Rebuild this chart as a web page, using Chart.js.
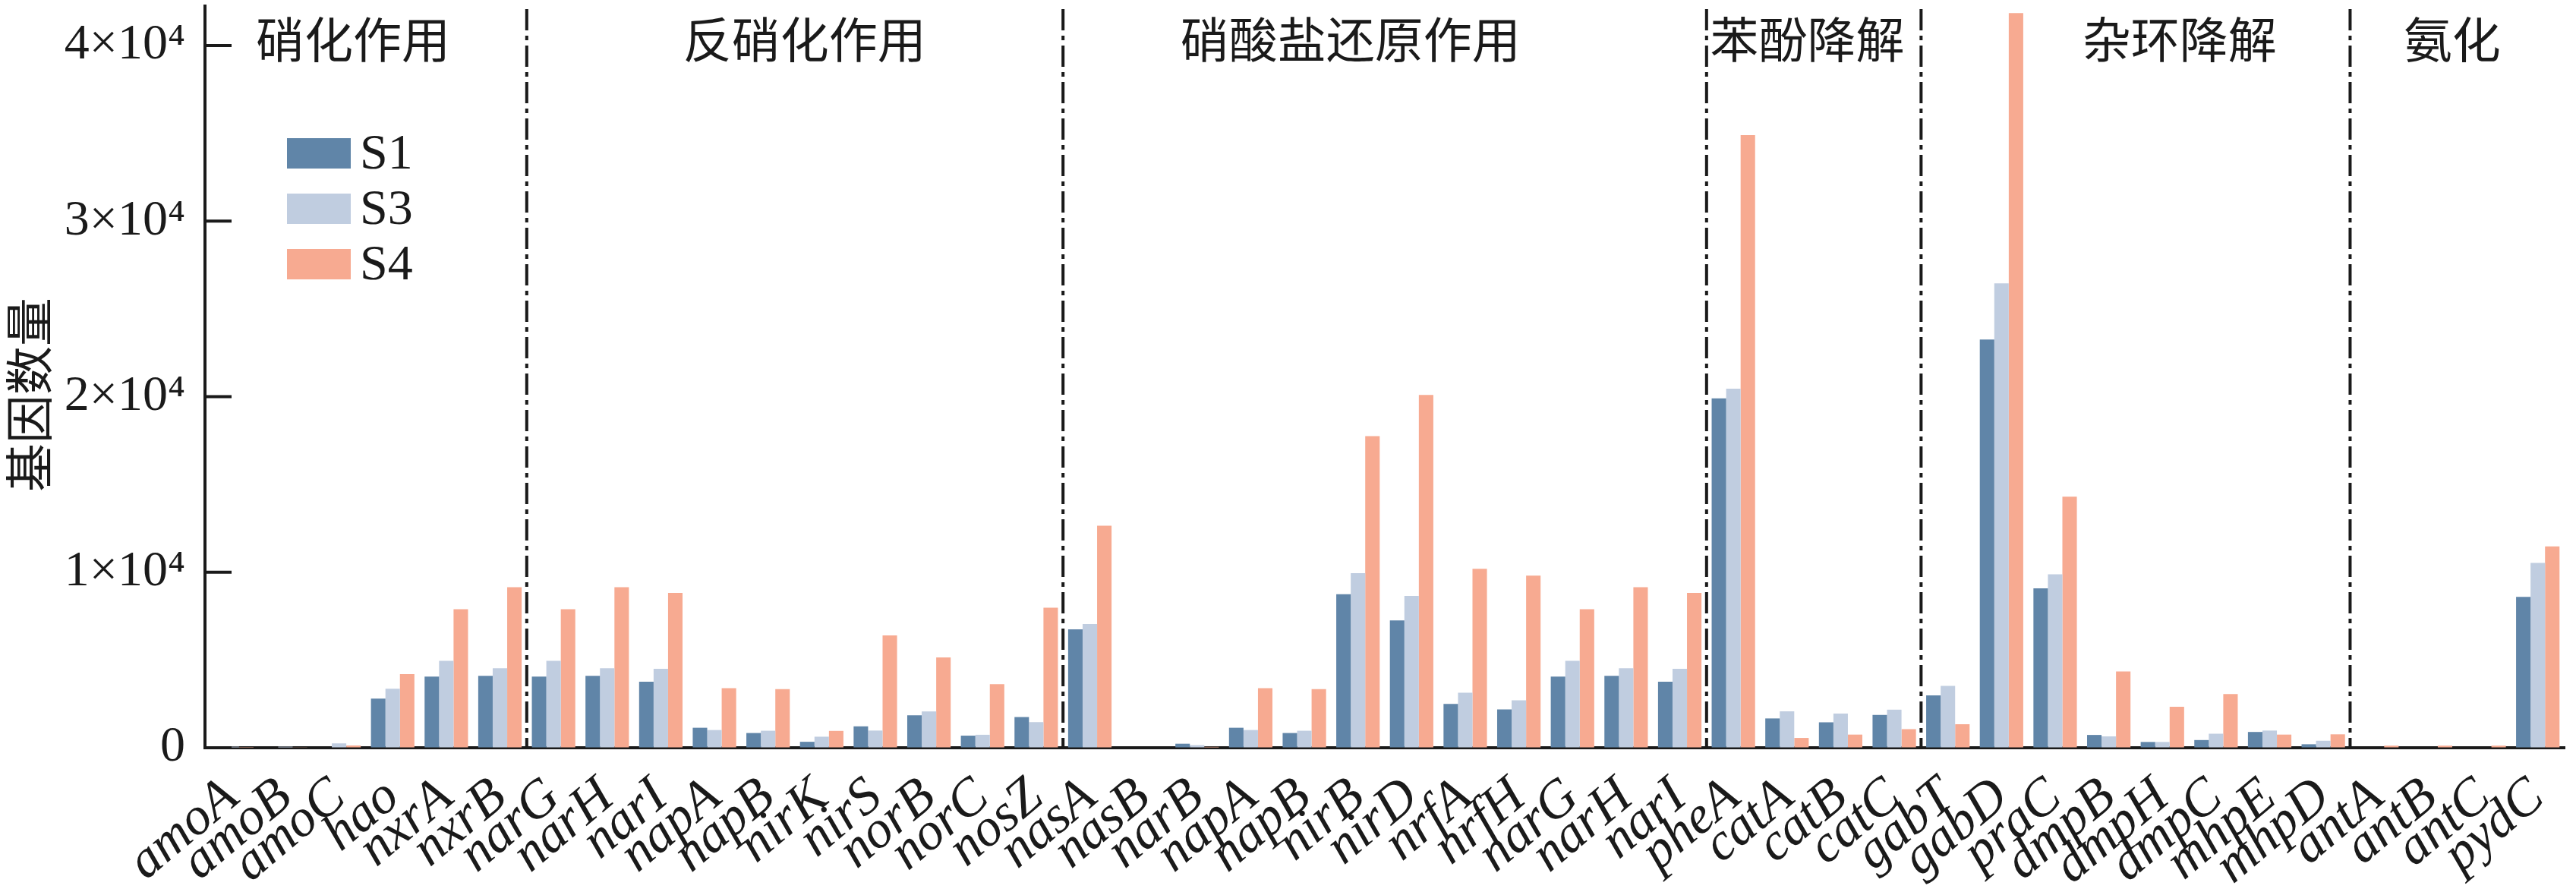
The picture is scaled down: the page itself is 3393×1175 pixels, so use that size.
<!DOCTYPE html>
<html>
<head>
<meta charset="utf-8">
<script src="https://cdn.jsdelivr.net/npm/chart.js@4.4.0/dist/chart.umd.min.js"></script>
<style>
    html, body { margin: 0; padding: 0; background: #fff; }
    #chartContainer { width: 3393px; height: 1175px; }
</style>
</head>
<body>
<div id="chartContainer">
    <canvas id="myChart" width="3393" height="1175"></canvas>
</div>

<script>
    // gene names along the x axis
    var genes = ['amoA', 'amoB', 'amoC', 'hao', 'nxrA', 'nxrB',
        'narG', 'narH', 'narI', 'napA', 'napB', 'nirK', 'nirS', 'norB', 'norC', 'nosZ',
        'nasA', 'nasB', 'narB', 'napA', 'napB', 'nirB', 'nirD', 'nrfA', 'nrfH', 'narG', 'narH', 'narI',
        'pheA', 'catA', 'catB', 'catC',
        'gabT', 'gabD', 'praC', 'dmpB', 'dmpH', 'dmpC', 'mhpE', 'mhpD',
        'antA', 'antB', 'antC', 'pydC'];

    // functional groups, in order, and how many genes each holds
    var groupNames = ['硝化作用', '反硝化作用', '硝酸盐还原作用', '苯酚降解', '杂环降解', '氨化'];
    var groupSizes = [6, 10, 12, 4, 8, 4];

    var seriesNames = ['S1', 'S3', 'S4'];

    var s1 = [0, 0, 0, 2800, 4050, 4100,
        4050, 4100, 3760, 1140, 840, 340, 1220, 1850, 690, 1750,
        6750, 0, 230, 1140, 840, 8750, 7250, 2500, 2180, 4050, 4100, 3760,
        19900, 1670, 1450, 1870,
        2980, 23250, 9080, 730, 330, 440, 900, 200,
        0, 0, 0, 8600];

    var s3 = [60, 60, 250, 3360, 4950, 4530,
        4950, 4530, 4500, 1010, 970, 630, 980, 2070, 740, 1460,
        7050, 0, 150, 1010, 970, 9950, 8650, 3130, 2700, 4950, 4530, 4500,
        20450, 2075, 1950, 2170,
        3520, 26450, 9880, 650, 330, 800, 980, 400,
        0, 0, 0, 10530];

    var s4 = [40, 30, 130, 4190, 7890, 9150,
        7890, 9150, 8820, 3390, 3340, 960, 6400, 5150, 3620, 7980,
        12650, 0, 50, 3390, 3340, 17750, 20100, 10200, 9810, 7890, 9150, 8820,
        34900, 560, 750, 1060,
        1340, 41850, 14300, 4350, 2340, 3060, 750, 765,
        120, 120, 120, 11470];

    var yTicks = [0, 10000, 20000, 30000, 40000];
    var yTickLabels = ['0', '1×10⁴', '2×10⁴', '3×10⁴', '4×10⁴'];

    var colors = ['#6085a8', '#c0cde0', '#f7aa91'];
    var ink = '#1a1a1a';

    // separators, group titles, legend, inward ticks and the y title
    var decorations = {
        id: 'decorations',
        afterDraw: function (chart, args, opts) {
            var ctx = chart.ctx;
            var xs = chart.scales.x;
            var ys = chart.scales.y;
            var area = chart.chartArea;
            var x0 = xs.getPixelForValue(0);
            var step = xs.getPixelForValue(1) - x0;

            ctx.save();

            // tick marks point into the plot
            ctx.strokeStyle = ink;
            ctx.lineWidth = 4;
            ys.ticks.forEach(function (t) {
                var y = ys.getPixelForValue(t.value);
                ctx.beginPath();
                ctx.moveTo(area.left, y);
                ctx.lineTo(area.left + 35, y);
                ctx.stroke();
            });

            // dash-dot lines between the groups
            ctx.setLineDash([28, 7, 6, 7]);
            var idx = 0;
            groupSizes.slice(0, -1).forEach(function (n) {
                idx += n;
                var x = x0 + (idx - 0.5) * step;
                ctx.beginPath();
                ctx.moveTo(x, area.top + 4);
                ctx.lineTo(x, area.bottom);
                ctx.stroke();
            });
            ctx.setLineDash([]);

            // group titles
            ctx.fillStyle = ink;
            ctx.font = '64px "Noto Sans CJK SC"';
            ctx.textAlign = 'center';
            ctx.textBaseline = 'middle';
            groupNames.forEach(function (name, i) {
                ctx.fillText(name, x0 + opts.titleAt[i] * step, opts.titleY);
            });

            // legend
            ctx.textAlign = 'left';
            ctx.font = '66px "Liberation Serif"';
            seriesNames.forEach(function (name, i) {
                var cy = opts.legendY + i * opts.legendGap;
                ctx.fillStyle = colors[i];
                ctx.fillRect(opts.legendX, cy - 20, 84, 40);
                ctx.fillStyle = ink;
                ctx.fillText(name, opts.legendX + 96, cy + 3);
            });

            // y axis title
            ctx.translate(38, 520);
            ctx.rotate(-Math.PI / 2);
            ctx.textAlign = 'center';
            ctx.font = '64px "Noto Sans CJK SC"';
            ctx.fillText('基因数量', 0, 0);

            ctx.restore();
        }
    };

    var ctx = document.getElementById('myChart').getContext('2d');
    var myChart = new Chart(ctx, {
        type: 'bar',
        data: {
            labels: genes,
            datasets: [
                { label: seriesNames[0], data: s1, backgroundColor: colors[0] },
                { label: seriesNames[1], data: s3, backgroundColor: colors[1] },
                { label: seriesNames[2], data: s4, backgroundColor: colors[2] }
            ]
        },
        options: {
            responsive: false,
            animation: false,
            devicePixelRatio: 1,
            layout: { padding: { left: 0, right: 15, top: 8, bottom: 0 } },
            datasets: {
                bar: { categoryPercentage: 0.81, barPercentage: 1.0 }
            },
            plugins: {
                legend: { display: false },
                tooltip: { enabled: false },
                decorations: {
                    titleAt: [2.26, 10.68, 20.86, 29.38, 36.32, 41.4],
                    titleY: 52,
                    legendX: 378,
                    legendY: 202,
                    legendGap: 73
                }
            },
            scales: {
                x: {
                    grid: { display: true, drawOnChartArea: false, drawTicks: false },
                    border: { display: true, color: ink, width: 4 },
                    ticks: {
                        autoSkip: false,
                        minRotation: 40,
                        maxRotation: 40,
                        padding: 24,
                        color: ink,
                        font: { family: 'Liberation Serif', size: 70, style: 'italic' }
                    },
                    afterFit: function (s) {
                        s.height = 190;
                        s.paddingLeft = 0;
                        s.paddingRight = 0;
                    }
                },
                y: {
                    min: 0,
                    max: 42250,
                    grid: { display: true, drawOnChartArea: false, drawTicks: false },
                    border: { display: true, color: ink, width: 4 },
                    ticks: {
                        autoSkip: false,
                        padding: 26,
                        color: ink,
                        font: { family: 'Liberation Serif', size: 66 },
                        callback: function (v) {
                            var i = yTicks.indexOf(v);
                            return i >= 0 ? yTickLabels[i] : '';
                        }
                    },
                    afterBuildTicks: function (s) {
                        s.ticks = yTicks.map(function (v) { return { value: v }; });
                    },
                    afterFit: function (s) {
                        s.width = 270;
                        s.paddingTop = 0;
                        s.paddingBottom = 0;
                    }
                }
            }
        },
        plugins: [decorations]
    });
</script>
</body>
</html>
